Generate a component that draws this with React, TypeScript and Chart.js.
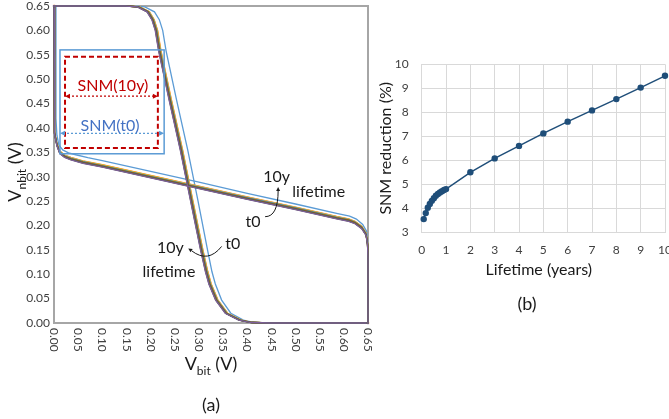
import React, { useEffect, useRef } from "react";
import { Chart, registerables } from "chart.js";
Chart.register(...registerables);

const FONT = "Lato, 'Open Sans', sans-serif";

// ---------------- Panel (a): butterfly curves ----------------
const butterflyTicks = [0, 0.05, 0.1, 0.15, 0.2, 0.25, 0.3, 0.35, 0.4, 0.45, 0.5, 0.55, 0.6, 0.65];

// Curve A (Vnbit vs Vbit, steep inverter) at t0
const t0CurveA_x = [0.0, 0.16, 0.188, 0.208, 0.218, 0.225, 0.232, 0.254, 0.277, 0.298, 0.318, 0.327, 0.334, 0.347, 0.366, 0.392, 0.415, 0.45, 0.65];
const t0CurveA_y = [0.65, 0.65, 0.648, 0.638, 0.622, 0.6, 0.558, 0.456, 0.354, 0.251, 0.149, 0.105, 0.08, 0.047, 0.02, 0.006, 0.001, 0.0, 0.0];
// Curve A after ageing (centre of the aged bundle)
const agedCurveA_x = [0.0, 0.15, 0.175, 0.195, 0.205, 0.212, 0.219, 0.241, 0.264, 0.285, 0.306, 0.316, 0.323, 0.337, 0.357, 0.385, 0.41, 0.45, 0.65];
const agedCurveA_y = [0.65, 0.65, 0.648, 0.638, 0.622, 0.6, 0.558, 0.456, 0.354, 0.251, 0.149, 0.105, 0.08, 0.047, 0.02, 0.006, 0.001, 0.0, 0.0];

// Curve B (shallow, mirrored inverter) at t0
const t0CurveB_x = [0.003, 0.004, 0.006, 0.01, 0.018, 0.03, 0.045, 0.07, 0.1, 0.2, 0.3, 0.4, 0.5, 0.585, 0.612, 0.626, 0.639, 0.647, 0.649, 0.65, 0.65];
const t0CurveB_y = [0.65, 0.42, 0.385, 0.365, 0.355, 0.349, 0.345, 0.339, 0.333, 0.311, 0.289, 0.266, 0.244, 0.225, 0.219, 0.213, 0.202, 0.188, 0.17, 0.14, 0.0];
// Curve B after ageing (centre of the aged bundle)
const agedCurveB_x = [0.0, 0.0, 0.002, 0.006, 0.012, 0.022, 0.035, 0.06, 0.1, 0.2, 0.3, 0.4, 0.5, 0.585, 0.61, 0.623, 0.637, 0.646, 0.649, 0.65, 0.65];
const agedCurveB_y = [0.65, 0.42, 0.39, 0.366, 0.35, 0.342, 0.337, 0.33, 0.322, 0.3, 0.278, 0.256, 0.235, 0.216, 0.211, 0.206, 0.196, 0.182, 0.163, 0.136, 0.0];

// Aged bundle members (shift of each curve from the bundle centre, toward t0)
const agingLabels = ["1m", "2m", "3m", "6m", "1y", "2y", "4y", "6y", "8y", "10y"];
const agingShift = [0.0025, 0.002, 0.0014, 0.0008, 0.0003, -0.0003, -0.0008, -0.0014, -0.002, -0.0025];
const agingColors = ["#ED7D31", "#FFC000", "#A5A5A5", "#70AD47", "#4472C4", "#997300", "#9E480E", "#636363", "#43682B", "#7E5E9A"];

// SNM boxes (V)
const snmT0X = [0.0124, 0.228];
const snmT0Y = [0.347, 0.56];
const snmT0ArrowY = 0.389;
const snm10yX = [0.0228, 0.215];
const snm10yY = [0.359, 0.546];
const snm10yArrowY = 0.465;

// ---------------- Panel (b): SNM reduction ----------------
const lifetimeYears = [0.083, 0.167, 0.25, 0.333, 0.417, 0.5, 0.583, 0.667, 0.75, 0.833, 0.917, 1, 2, 3, 4, 5, 6, 7, 8, 9, 10];
const snmReduction = [3.55, 3.8, 4.02, 4.18, 4.31, 4.42, 4.52, 4.6, 4.66, 4.71, 4.76, 4.8, 5.5, 6.08, 6.6, 7.12, 7.61, 8.08, 8.55, 9.03, 9.52];
const lifetimeTicks = [0, 1, 2, 3, 4, 5, 6, 7, 8, 9, 10];
const reductionTicks = [3, 4, 5, 6, 7, 8, 9, 10];

const pts = (xs: number[], ys: number[]) => xs.map((x, i) => ({ x, y: ys[i] }));

function drawSubTitle(ctx: CanvasRenderingContext2D, main: string, sub: string, tail: string, size: number, subSize: number, cx: number, cy: number, rot: number, color: string) {
  ctx.save();
  ctx.translate(cx, cy);
  ctx.rotate(rot);
  ctx.fillStyle = color;
  ctx.textBaseline = "alphabetic";
  ctx.textAlign = "left";
  ctx.font = `${size}px ${FONT}`;
  const w1 = ctx.measureText(main).width;
  const w3 = ctx.measureText(tail).width;
  ctx.font = `${subSize}px ${FONT}`;
  const w2 = ctx.measureText(sub).width;
  const total = w1 + w2 + w3;
  let x = -total / 2;
  const base = size * 0.36;
  ctx.font = `${size}px ${FONT}`;
  ctx.fillText(main, x, base);
  x += w1;
  ctx.font = `${subSize}px ${FONT}`;
  ctx.fillText(sub, x, base + subSize * 0.35);
  x += w2;
  ctx.font = `${size}px ${FONT}`;
  ctx.fillText(tail, x, base);
  ctx.restore();
}

function arrowHead(ctx: CanvasRenderingContext2D, x: number, y: number, ang: number, len: number, half: number, color: string) {
  ctx.save();
  ctx.setLineDash([]);
  ctx.fillStyle = color;
  ctx.beginPath();
  ctx.moveTo(x, y);
  ctx.lineTo(x - len * Math.cos(ang) - half * Math.sin(ang), y - len * Math.sin(ang) + half * Math.cos(ang));
  ctx.lineTo(x - len * Math.cos(ang) + half * Math.sin(ang), y - len * Math.sin(ang) - half * Math.cos(ang));
  ctx.closePath();
  ctx.fill();
  ctx.restore();
}

function doubleArrow(ctx: CanvasRenderingContext2D, x0: number, x1: number, y: number, color: string) {
  ctx.save();
  ctx.strokeStyle = color;
  ctx.lineWidth = 1.2;
  ctx.setLineDash([2, 2]);
  ctx.beginPath();
  ctx.moveTo(x0 + 3, y);
  ctx.lineTo(x1 - 3, y);
  ctx.stroke();
  arrowHead(ctx, x0, y, Math.PI, 5, 2.5, color);
  arrowHead(ctx, x1, y, 0, 5, 2.5, color);
  ctx.restore();
}

const panelAPlugin = {
  id: "panelA",
  beforeDatasetsDraw(chart: any) {
    const { ctx, chartArea: ca } = chart;
    ctx.save();
    ctx.strokeStyle = "#a6a6a6";
    ctx.lineWidth = 2;
    ctx.strokeRect(ca.left, ca.top, ca.right - ca.left, ca.bottom - ca.top);
    ctx.restore();
  },
  afterDatasetsDraw(chart: any) {
    const { ctx } = chart;
    const xs = chart.scales.x, ys = chart.scales.y;
    const px = (v: number) => xs.getPixelForValue(v);
    const py = (v: number) => ys.getPixelForValue(v);
    ctx.save();
    // SNM(t0) box
    ctx.strokeStyle = "#5B9BD5";
    ctx.lineWidth = 1.5;
    ctx.setLineDash([]);
    ctx.strokeRect(px(snmT0X[0]), py(snmT0Y[1]), px(snmT0X[1]) - px(snmT0X[0]), py(snmT0Y[0]) - py(snmT0Y[1]));
    // SNM(10y) box
    ctx.strokeStyle = "#C00000";
    ctx.lineWidth = 2;
    ctx.setLineDash([5, 3]);
    ctx.strokeRect(px(snm10yX[0]), py(snm10yY[1]), px(snm10yX[1]) - px(snm10yX[0]), py(snm10yY[0]) - py(snm10yY[1]));
    ctx.setLineDash([]);
    doubleArrow(ctx, px(snm10yX[0]), px(snm10yX[1]), py(snm10yArrowY), "#C00000");
    doubleArrow(ctx, px(snmT0X[0]), px(snmT0X[1]), py(snmT0ArrowY), "#5B9BD5");

    ctx.textAlign = "center";
    ctx.textBaseline = "middle";
    ctx.font = `16px ${FONT}`;
    ctx.fillStyle = "#C00000";
    ctx.fillText("SNM(10y)", px(0.122), py(0.487));
    ctx.fillStyle = "#4472C4";
    ctx.fillText("SNM(t0)", px(0.116), py(0.405));

    ctx.fillStyle = "#1a1a1a";
    ctx.fillText("10y", px(0.461), py(0.299));
    ctx.fillText("lifetime", px(0.548), py(0.268));
    ctx.fillText("t0", px(0.412), py(0.208));
    ctx.fillText("10y", px(0.241), py(0.155));
    ctx.fillText("lifetime", px(0.238), py(0.105));
    ctx.fillText("t0", px(0.37), py(0.163));

    // curved arrows
    ctx.strokeStyle = "#1a1a1a";
    ctx.lineWidth = 1;
    ctx.beginPath();
    ctx.moveTo(px(0.437), py(0.218));
    ctx.quadraticCurveTo(px(0.464), py(0.218), px(0.464), py(0.272));
    ctx.stroke();
    arrowHead(ctx, px(0.464), py(0.279), -Math.PI / 2, 4, 2, "#1a1a1a");

    ctx.beginPath();
    ctx.moveTo(px(0.347), py(0.157));
    ctx.quadraticCurveTo(px(0.319), py(0.122), px(0.285), py(0.148));
    ctx.stroke();
    arrowHead(ctx, px(0.278), py(0.153), Math.PI + 0.6, 4, 2, "#1a1a1a");
    ctx.restore();
  },
  afterDraw(chart: any) {
    const { ctx, chartArea: ca } = chart;
    const xs = chart.scales.x;
    ctx.save();
    ctx.font = `12px ${FONT}`;
    ctx.fillStyle = "#404040";
    ctx.textAlign = "left";
    ctx.textBaseline = "middle";
    for (const v of butterflyTicks) {
      ctx.save();
      ctx.translate(xs.getPixelForValue(v), ca.bottom + 5);
      ctx.rotate(Math.PI / 2);
      ctx.fillText(v.toFixed(2), 0, 0);
      ctx.restore();
    }
    ctx.restore();
    drawSubTitle(ctx, "V", "bit", " (V)", 18, 12, (ca.left + ca.right) / 2, 364, 0, "#1a1a1a");
    drawSubTitle(ctx, "V", "nbit", " (V)", 18, 12, 15, 172, -Math.PI / 2, "#1a1a1a");
    ctx.save();
    ctx.font = `18px ${FONT}`;
    ctx.fillStyle = "#1a1a1a";
    ctx.textAlign = "center";
    ctx.textBaseline = "middle";
    ctx.fillText("(a)", (ca.left + ca.right) / 2, 405);
    ctx.restore();
  },
};

const panelBPlugin = {
  id: "panelB",
  afterDraw(chart: any) {
    const { ctx, chartArea: ca } = chart;
    ctx.save();
    ctx.fillStyle = "#1a1a1a";
    ctx.textAlign = "center";
    ctx.textBaseline = "middle";
    ctx.font = `16px ${FONT}`;
    ctx.fillText("Lifetime (years)", 538.8 - 375, 270);
    ctx.font = `18px ${FONT}`;
    ctx.fillText("(b)", 527 - 375, 304);
    ctx.translate(11, (ca.top + ca.bottom) / 2);
    ctx.rotate(-Math.PI / 2);
    ctx.font = `16px ${FONT}`;
    ctx.fillText("SNM reduction (%)", 0, 0);
    ctx.restore();
  },
};

function buildA(): any {
  const datasets: any[] = [];
  for (let k = agingShift.length - 1; k >= 0; k--) {
    datasets.push({
      label: `A ${agingLabels[k]}`,
      data: agedCurveA_x.map((x, i) => ({ x: x + agingShift[k], y: agedCurveA_y[i] })),
      borderColor: agingColors[k],
      borderWidth: 1.3,
    });
    datasets.push({
      label: `B ${agingLabels[k]}`,
      data: agedCurveB_x.map((x, i) => ({ x, y: agedCurveB_y[i] + agingShift[k] })),
      borderColor: agingColors[k],
      borderWidth: 1.3,
    });
  }
  datasets.push({ label: "A t0", data: pts(t0CurveA_x, t0CurveA_y), borderColor: "#5B9BD5", borderWidth: 1.3 });
  datasets.push({ label: "B t0", data: pts(t0CurveB_x, t0CurveB_y), borderColor: "#5B9BD5", borderWidth: 1.3 });
  datasets.forEach((d) => {
    d.showLine = true;
    d.pointRadius = 0;
    d.fill = false;
    d.clip = false;
    d.tension = 0;
  });
  return {
    type: "scatter",
    data: { datasets },
    options: {
      animation: false,
      responsive: false,
      events: [],
      layout: { padding: { left: 0, right: 7, top: 6, bottom: 0 } },
      plugins: { legend: { display: false }, tooltip: { enabled: false } },
      scales: {
        x: {
          type: "linear",
          min: 0,
          max: 0.65,
          grid: { display: false, drawTicks: false },
          border: { display: false },
          ticks: { display: false },
          afterBuildTicks: (s: any) => { s.ticks = butterflyTicks.map((v) => ({ value: v })); },
          afterFit: (s: any) => { s.height = 96; s.paddingLeft = 0; s.paddingRight = 0; },
        },
        y: {
          type: "linear",
          min: 0,
          max: 0.65,
          grid: { display: false, drawTicks: false },
          border: { display: false },
          ticks: {
            color: "#404040",
            font: { family: FONT, size: 12 },
            padding: 4,
            callback: (v: any) => Number(v).toFixed(2),
          },
          afterBuildTicks: (s: any) => { s.ticks = butterflyTicks.map((v) => ({ value: v })); },
          afterFit: (s: any) => { s.width = 54; s.paddingTop = 0; s.paddingBottom = 0; },
        },
      },
    },
    plugins: [panelAPlugin],
  };
}

function buildB(): any {
  return {
    type: "line",
    data: {
      datasets: [
        {
          label: "SNM reduction",
          data: pts(lifetimeYears, snmReduction),
          borderColor: "#1F4E79",
          backgroundColor: "#1F4E79",
          borderWidth: 1.5,
          pointRadius: 3.2,
          pointBorderWidth: 0,
          pointBackgroundColor: "#1F4E79",
          clip: false,
          tension: 0,
        },
      ],
    },
    options: {
      animation: false,
      responsive: false,
      events: [],
      parsing: true,
      layout: { padding: { left: 0, right: 2.3, top: 64.3, bottom: 0 } },
      plugins: { legend: { display: false }, tooltip: { enabled: false } },
      scales: {
        x: {
          type: "linear",
          min: 0,
          max: 10,
          grid: { color: "#d9d9d9", lineWidth: 1, drawTicks: false },
          border: { color: "#d9d9d9" },
          ticks: { color: "#404040", font: { family: FONT, size: 12 }, padding: 11, maxRotation: 0, autoSkip: false },
          afterBuildTicks: (s: any) => { s.ticks = lifetimeTicks.map((v) => ({ value: v })); },
          afterFit: (s: any) => { s.height = 419 - 232.3; s.paddingLeft = 0; s.paddingRight = 0; },
        },
        y: {
          type: "linear",
          min: 3,
          max: 10,
          grid: { color: "#d9d9d9", lineWidth: 1, drawTicks: false },
          border: { color: "#d9d9d9" },
          ticks: { color: "#404040", font: { family: FONT, size: 12 }, padding: 13 },
          afterBuildTicks: (s: any) => { s.ticks = reductionTicks.map((v) => ({ value: v })); },
          afterFit: (s: any) => { s.width = 46.7; s.paddingTop = 0; s.paddingBottom = 0; },
        },
      },
    },
    plugins: [panelBPlugin],
  };
}

export default function App() {
  const refA = useRef<HTMLCanvasElement>(null);
  const refB = useRef<HTMLCanvasElement>(null);
  useEffect(() => {
    const a = new Chart(refA.current as HTMLCanvasElement, buildA());
    const b = new Chart(refB.current as HTMLCanvasElement, buildB());
    return () => {
      a.destroy();
      b.destroy();
    };
  }, []);
  return (
    <div style={{ position: "fixed", left: 0, top: 0, width: 669, height: 419, background: "#fff", overflow: "hidden" }}>
      <canvas ref={refA} width={375} height={419} style={{ position: "absolute", left: 0, top: 0, width: 375, height: 419 }} />
      <canvas ref={refB} width={294} height={419} style={{ position: "absolute", left: 375, top: 0, width: 294, height: 419 }} />
    </div>
  );
}
